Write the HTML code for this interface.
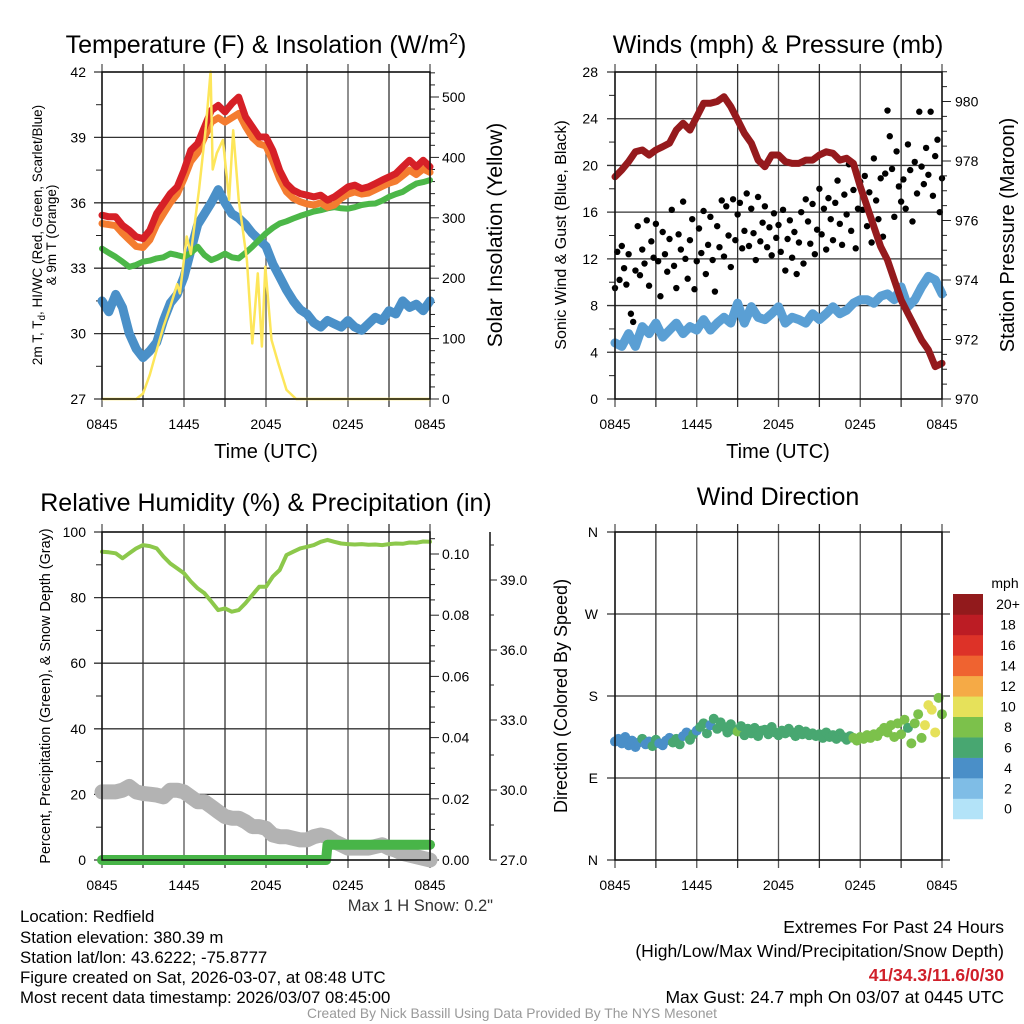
<!DOCTYPE html>
<html><head><meta charset="utf-8"><style>
html,body{margin:0;padding:0;background:#fff;}
svg{display:block;font-family:"Liberation Sans",Arial,sans-serif;}
</style></head><body>
<svg id="fig" width="1024" height="1024" viewBox="0 0 1024 1024" xmlns="http://www.w3.org/2000/svg">
<rect x="0" y="0" width="1024" height="1024" fill="#fff"/>
<g id="layers"></g>
<text x="266" y="53" font-size="25" text-anchor="middle">Temperature (F) &amp; Insolation (W/m<tspan dy="-9" font-size="16">2</tspan><tspan dy="9">)</tspan></text>
<text x="778" y="53" font-size="25" text-anchor="middle">Winds (mph) &amp; Pressure (mb)</text>
<text x="266" y="511" font-size="25" text-anchor="middle">Relative Humidity (%) &amp; Precipitation (in)</text>
<text x="778" y="505" font-size="25" text-anchor="middle">Wind Direction</text>
<text x="266" y="458" font-size="20" text-anchor="middle">Time (UTC)</text>
<text x="778" y="458" font-size="20" text-anchor="middle">Time (UTC)</text>
<g transform="translate(42,235) rotate(-90)"><text x="0" y="0" font-size="13.5" text-anchor="middle">2m T, T<tspan dy="3" font-size="10">d</tspan><tspan dy="-3">, HI/WC (Red, Green, Scarlet/Blue)</tspan></text><text x="0" y="14" font-size="13.5" text-anchor="middle">&amp; 9m T (Orange)</text></g>
<text transform="translate(502,235) rotate(-90)" font-size="21" text-anchor="middle">Solar Insolation (Yellow)</text>
<text transform="translate(566,235) rotate(-90)" font-size="16" text-anchor="middle">Sonic Wind &amp; Gust (Blue, Black)</text>
<text transform="translate(1014,235) rotate(-90)" font-size="20" text-anchor="middle">Station Pressure (Maroon)</text>
<text transform="translate(50,696) rotate(-90)" font-size="14.4" text-anchor="middle">Percent, Precipitation (Green), &amp; Snow Depth (Gray)</text>
<text transform="translate(567,696) rotate(-90)" font-size="18" text-anchor="middle">Direction (Colored By Speed)</text>
<text x="493" y="911" font-size="16.5" text-anchor="end" fill="#333">Max 1 H Snow: 0.2"</text>
<g font-size="16.8">
<text x="20" y="922">Location: Redfield</text>
<text x="20" y="943">Station elevation: 380.39 m</text>
<text x="20" y="963">Station lat/lon: 43.6222; -75.8777</text>
<text x="20" y="983">Figure created on Sat, 2026-03-07, at 08:48 UTC</text>
<text x="20" y="1003">Most recent data timestamp: 2026/03/07 08:45:00</text>
</g>
<g font-size="17.5" text-anchor="end">
<text x="1004" y="933">Extremes For Past 24 Hours</text>
<text x="1004" y="957">(High/Low/Max Wind/Precipitation/Snow Depth)</text>
<text x="1004" y="981" fill="#d0202a" font-weight="bold">41/34.3/11.6/0/30</text>
<text x="1004" y="1003">Max Gust: 24.7 mph On 03/07 at 0445 UTC</text>
</g>
<text x="512" y="1018" font-size="13.8" text-anchor="middle" fill="#999">Created By Nick Bassill Using Data Provided By The NYS Mesonet</text>
</svg>
<script>
// ---- data (time step 0.5 h from 0845 UTC) ----
const xTickLabels = ["0845","1445","2045","0245","0845"];
const tempRed = [35.43,35.36,35.36,34.97,34.74,34.44,34.36,34.74,35.51,35.97,36.42,36.73,37.49,38.41,38.72,39.48,40.24,40.47,40.17,40.55,40.85,39.94,39.48,39.02,39.02,38.41,37.49,36.88,36.58,36.42,36.35,36.27,36.35,36.12,36.27,36.5,36.73,36.81,36.65,36.73,36.88,37.04,37.19,37.34,37.65,37.95,37.65,37.95,37.65];
const tempOrange = [35.05,35.0,34.95,34.6,34.3,34.0,33.95,34.3,35.0,35.5,36.0,36.4,37.1,37.9,38.3,39.0,39.7,39.9,39.7,39.9,40.1,39.5,39.0,38.7,38.6,37.9,37.1,36.5,36.2,36.05,35.95,35.9,36.0,35.8,35.9,36.2,36.4,36.5,36.4,36.45,36.6,36.75,36.9,37.0,37.25,37.5,37.3,37.55,37.4];
const tempGreen = [33.9,33.7,33.52,33.3,33.06,33.15,33.3,33.35,33.45,33.5,33.67,33.6,33.52,33.7,33.98,33.6,33.37,33.5,33.67,33.5,33.45,33.7,33.98,34.3,34.6,34.85,35.05,35.15,35.28,35.4,35.5,35.6,35.66,35.75,35.8,35.75,35.73,35.8,35.9,35.95,35.97,36.1,36.27,36.4,36.5,36.7,36.88,36.95,37.04];
const tempBlue = [31.5,31.0,31.8,31.2,30.0,29.3,28.9,29.2,29.6,30.6,31.4,31.8,32.6,33.8,35.0,35.5,36.0,36.6,36.0,35.5,35.3,35.0,34.6,34.3,34.0,33.2,32.6,32.0,31.5,31.1,30.9,30.5,30.3,30.6,30.45,30.3,30.6,30.3,30.15,30.45,30.75,30.6,31.05,30.9,31.5,31.2,31.35,31.05,31.5];
const solarHours = [0,2.5,3,3.5,4,4.5,5,5.5,5.7,6.2,6.5,7.1,7.6,7.95,8.1,8.4,8.85,9.3,9.6,10,10.6,11,11.4,11.7,11.95,12.4,12.9,13.5,14.2,24];
const solarValues = [0,0,9,40,81,120,153,190,175,269,240,346,451,542,380,407,429,330,445,330,230,92,208,87,219,98,59,15,0,0];
const pressure = [977.47,977.7,977.98,978.31,978.37,978.2,978.37,978.48,978.6,979.04,979.27,979.04,979.49,979.94,979.94,980.0,980.16,979.83,979.38,978.93,978.6,978.03,977.81,978.2,978.2,977.98,977.92,977.92,978.03,978.03,978.2,978.31,978.26,978.03,978.09,977.92,977.14,976.47,975.79,975.12,974.67,974.0,973.33,972.88,972.43,971.98,971.65,971.09,971.2];
const windSpeed = [4.8,4.5,5.6,4.5,6.2,5.6,6.5,5.3,5.9,6.5,5.6,6.2,5.9,6.8,5.9,6.5,7.0,6.5,8.2,6.5,7.9,7.0,6.8,7.3,7.9,6.5,7.0,6.8,6.5,7.3,6.8,7.3,7.9,7.3,7.6,8.2,8.5,8.5,8.2,8.8,9.0,8.5,9.6,7.9,8.5,9.6,10.5,10.2,9.0];
// gusts every 10 min
const windGust = [9.5,12.6,10.2,13.1,11.2,9.8, 12.4,7.3,6.6,11.0,14.8,10.6, 12.8,11.6,15.3,9.7,13.5,12.1, 15.0,11.8,8.8,14.3,12.4,10.9, 13.7,16.2,11.4,9.5,14.1,12.8, 16.9,12.0,10.3,13.6,15.4,9.4, 11.8,14.6,12.5,16.1,10.7,13.2, 15.6,11.9,9.2,14.8,13.0,17.0, 12.2,16.5,14.0,11.3,17.1,13.6, 15.8,16.8,12.9,14.4,17.6,13.1, 16.3,14.2,11.9,17.3,13.5,15.1, 16.5,13.0,14.7,12.3,15.9,13.8, 14.9,12.6,16.2,11.0,13.7,15.3, 12.1,14.3,10.7,13.4,16.0,11.6, 17.1,15.2,13.3,16.7,12.4,14.5, 18.0,14.1,16.3,12.8,17.2,15.4, 13.6,16.8,18.7,15.0,13.2,17.5, 15.8,20.1,14.4,17.9,12.9,16.3, 18.6,16.2,19.1,14.8,17.7,13.4, 20.6,17.0,15.4,18.9,13.9,19.3, 24.7,22.5,19.7,15.6,21.2,18.2, 16.9,18.8,16.3,21.8,19.6,15.2, 20.3,17.6,24.6,19.9,18.4,21.5, 19.2,24.6,17.4,20.8,22.2,16.0, 18.9];
const relHumidity = [94,93.8,93.5,92,93.5,95,96,95.7,95,92.5,90.4,88.9,87.4,84.9,82.8,81.3,78.8,76.2,76.7,75.7,76.2,78.3,80.8,83.3,83.3,86.4,88.4,93,94,95,95.5,96,97,97.6,97,96.5,96.3,96.2,96.3,96.1,96.2,96.0,96.3,96.5,96.4,96.8,96.7,97.1,97.0];
const snowDepth = [29.92,29.92,29.92,29.99,30.15,29.92,29.85,29.82,29.78,29.71,29.99,29.99,29.92,29.71,29.5,29.5,29.29,29.07,28.86,28.79,28.79,28.64,28.43,28.43,28.36,28.07,28.0,28.0,27.93,27.86,27.86,28.0,28.07,28.0,27.79,27.65,27.51,27.51,27.51,27.51,27.58,27.65,27.51,27.42,27.28,27.21,27.14,27.07,27.0];
const precipHours = [0,16.4,16.5,24];
const precipValues = [0,0,0.005,0.005];
// direction every 15 min (degrees)
const windDir = [130,133,128,135, 126,131,124,129, 133,127,130,125, 132,128,126,131, 134,129,133,127, 136,140,132,138, 142,146,150,139, 148,155,144,151, 146,140,149,143, 141,147,137,144, 139,145,136,142, 143,138,146,140, 137,142,139,144, 140,136,143,138, 141,137,139,136, 138,134,140,135, 137,133,139,135, 132,136,134,131, 135,133,137,134, 138,136,141,145, 140,148,135,150, 138,154,145,128, 150,160,134,148, 170,165,140,178, 160];
const speedBinLabels = ["0","2","4","6","8","10","12","14","16","18","20+"];
const speedBinColors = ["#b3e3f8","#7fbde6","#4a8fc8","#48a771","#7cc14b","#e6e15a","#f5aa46","#ef6330","#dd3228","#bc1c24","#921a1c"];

const NS = "http://www.w3.org/2000/svg";
const root = document.getElementById("layers");
function mk(tag, attrs, parent){ const e=document.createElementNS(NS,tag); for(const k in attrs) e.setAttribute(k,attrs[k]); (parent||root).appendChild(e); return e; }

// scales
const xL = h => 102 + h*328/24;
const xR = h => 615 + h*327/24;
const yTemp = t => 399 - (t-27)*327/15;
const ySolar = w => 399 - w*0.604;
const yWind = v => 399 - v*327/28;
const yPres = p => 399 - (p-970)*29.75;
const yRH = v => 860 - v*3.28;
const yPrecip = v => 860 - v*3060;
const ySnow = d => 860 - (d-27)*70/3;
const yDir = d => 860 - d*328/360;

function pathFrom(hours, vals, xf, yf){ let d=""; for(let i=0;i<vals.length;i++){ d += (i?"L":"M")+xf(hours[i]).toFixed(1)+","+yf(vals[i]).toFixed(1);} return d; }
const halfHours = tempRed.map((_,i)=>i*0.5);

function frame(name){
  const g = mk("g",{});
  
  
  return g;
}
function hline(g,x0,x1,y,w,c){ mk("line",{x1:x0,x2:x1,y1:y,y2:y,stroke:c||"#222","stroke-width":w||1.3},g); }
function vline(g,x,y0,y1,w,c){ mk("line",{x1:x,x2:x,y1:y0,y2:y1,stroke:c||"#222","stroke-width":w||1.3},g); }
function label(g,x,y,t,anchor,size,name){ const e=mk("text",{x:x,y:y,"font-size":size||14,"text-anchor":anchor||"middle"},g); e.textContent=t;   return e; }

function grid(g,y0,y1,xf){
  for(let k=0;k<=8;k++){ const x=xf(k*3); vline(g,x,y0-8,y1+8,1.3,k%2?"#333":"#555"); }
}

// ---------- Panel 1 ----------
const g1 = frame("temperature-panel");
grid(g1,72,399,xL);
for(let t=27;t<=42;t+=3){ hline(g1,94,430,yTemp(t),1.3,"#333"); label(g1,86,yTemp(t)+5,String(t),"end",14,"temp-tick-label"); }
for(let t=28.5;t<42;t+=3){ hline(g1,96,102,yTemp(t),1); }
for(let w=0;w<=540;w+=20){ hline(g1,430,w%100===0?439:435,ySolar(w),1); }
for(let w=0;w<=500;w+=100){ label(g1,442,ySolar(w)+5,String(w),"start",14,"solar-tick-label"); }
xTickLabels.forEach((s,i)=>label(g1,xL(i*6),429,s,"middle",14,"time-tick-label"));
const s1 = mk("g",{},g1);


[[tempBlue,"#4a90c8",9,"dewpoint-line"],[tempGreen,"#4cb748",6,"heat-index-line"],[tempOrange,"#f47c30",7,"nine-m-temp-line"],[tempRed,"#d62027",7,"two-m-temp-line"]].forEach(([arr,c,w,n])=>{
  const p = mk("path",{d:pathFrom(halfHours,arr,xL,yTemp),fill:"none",stroke:c,"stroke-width":w,"stroke-linejoin":"round","stroke-linecap":"round"},s1);
  
  
});
const sol = mk("path",{d:pathFrom(solarHours,solarValues,xL,ySolar),fill:"none",stroke:"#fde65a","stroke-width":2.5,"stroke-linejoin":"round"},s1);


mk("rect",{x:102,y:72,width:328,height:327,fill:"none",stroke:"#111","stroke-width":1.5},g1);

// ---------- Panel 2 ----------
const g2 = frame("winds-panel");
grid(g2,72,399,xR);
for(let v=0;v<=28;v+=4){ hline(g2,607,942,yWind(v),1.3,"#333"); label(g2,598,yWind(v)+5,String(v),"end",14,"wind-tick-label"); }
for(let v=2;v<28;v+=4){ hline(g2,609,615,yWind(v),1); }
for(let p=970;p<=981;p+=0.5){ hline(g2,942,(p%2===0)?951:947,yPres(p),1); }
for(let p=970;p<=980;p+=2){ label(g2,955,yPres(p)+5,String(p),"start",14,"pressure-tick-label"); }
xTickLabels.forEach((s,i)=>label(g2,xR(i*6),429,s,"middle",14,"time-tick-label"));
const wl = mk("path",{d:pathFrom(halfHours,windSpeed,xR,yWind),fill:"none",stroke:"#5a9fd4","stroke-width":9,"stroke-linejoin":"round","stroke-linecap":"round"},g2);


const gustG = mk("g",{},g2);


windGust.forEach((v,i)=>{
  const c = mk("circle",{cx:xR(i/6),cy:yWind(v),r:3.2,fill:"#000"},gustG);
  
  
});
const pl = mk("path",{d:pathFrom(halfHours,pressure,xR,yPres),fill:"none",stroke:"#951a1d","stroke-width":7,"stroke-linejoin":"round","stroke-linecap":"round"},g2);


mk("rect",{x:615,y:72,width:327,height:327,fill:"none",stroke:"#111","stroke-width":1.5},g2);

// ---------- Panel 3 ----------
const g3 = frame("humidity-panel");
grid(g3,532,860,xL);
for(let v=0;v<=100;v+=20){ hline(g3,94,430,yRH(v),1.3,"#333"); label(g3,86,yRH(v)+5,String(v),"end",14,"rh-tick-label"); }
for(let v=10;v<100;v+=20){ hline(g3,96,102,yRH(v),1); }
for(let i=0;i<=21;i++){ const v=i*0.005; hline(g3,430,i%4===0?439:435,yPrecip(v),1); }
for(let i=0;i<=5;i++){ const v=i*0.02; label(g3,442,yPrecip(v)+5,v.toFixed(2),"start",14,"precip-tick-label"); }
vline(g3,490,532,860,1.5,"#111");
for(let d=27;d<=41;d+=1.5){ if(ySnow(d)>=532) hline(g3,490,(d-27)%3===0?497:494,ySnow(d),1); }
for(let d=27;d<=39;d+=3){ label(g3,500,ySnow(d)+5,d.toFixed(1),"start",14,"snow-tick-label"); }
xTickLabels.forEach((s,i)=>label(g3,xL(i*6),890,s,"middle",14,"time-tick-label"));
const sn = mk("path",{d:pathFrom(halfHours,snowDepth,xL,ySnow),fill:"none",stroke:"#b3b3b3","stroke-width":15,"stroke-linejoin":"round","stroke-linecap":"round"},g3);


const pr = mk("path",{d:pathFrom(precipHours,precipValues,xL,yPrecip),fill:"none",stroke:"#48b548","stroke-width":10,"stroke-linejoin":"round","stroke-linecap":"round"},g3);


const rl = mk("path",{d:pathFrom(halfHours,relHumidity,xL,yRH),fill:"none",stroke:"#8cc84b","stroke-width":4,"stroke-linejoin":"round","stroke-linecap":"round"},g3);


mk("rect",{x:102,y:532,width:328,height:328,fill:"none",stroke:"#111","stroke-width":1.5},g3);

// ---------- Panel 4 ----------
const g4 = frame("direction-panel");
grid(g4,532,860,xR);
const dirLabels = ["N","E","S","W","N"];
dirLabels.forEach((s,i)=>{ hline(g4,607,950,yDir(i*90),1.3,"#333"); label(g4,598,yDir(i*90)+5,s,"end",14,"direction-tick-label"); });
xTickLabels.forEach((s,i)=>label(g4,xR(i*6),890,s,"middle",14,"time-tick-label"));
const dg = mk("g",{},g4);


function speedAt(h){ const i=Math.min(47,Math.floor(h*2)); const f=h*2-i; return windSpeed[i]*(1-f)+windSpeed[i+1]*f; }
windDir.forEach((d,i)=>{
  const h=i*0.25; const s=speedAt(h); const bin=Math.min(10,Math.floor(s/2));
  const c = mk("circle",{cx:xR(h),cy:yDir(d),r:5,fill:speedBinColors[bin]},dg);
  
  
});
mk("rect",{x:615,y:532,width:327,height:328,fill:"none",stroke:"#111","stroke-width":1.5},g4);

// colorbar
const cb = mk("g",{});


const cbTop=594, cbH=20.45;
speedBinColors.forEach((c,i)=>{
  const y = cbTop + (10-i)*cbH;
  const r = mk("rect",{x:953,y:y,width:30,height:cbH+0.3,fill:c},cb);
  
  
  label(cb,1008,y+cbH/2+5,speedBinLabels[i],"middle",14,"colorbar-label");
});
label(cb,1005,588,"mph","middle",14,"colorbar-title");
</script>
</body></html>
